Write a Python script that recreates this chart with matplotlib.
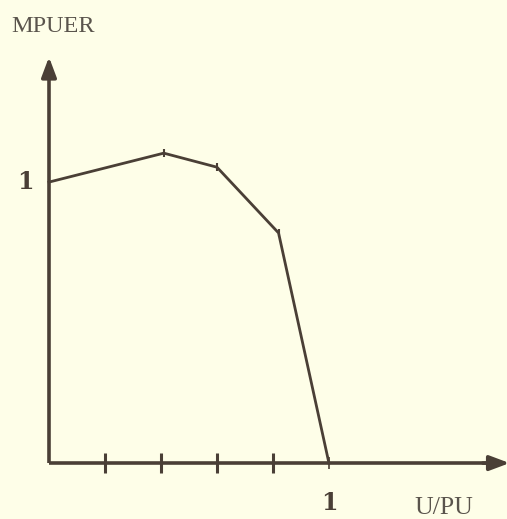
import numpy as np
import matplotlib.pyplot as plt

# curve values
u_pu = [0.0, 0.41, 0.60, 0.82, 1.0]
mpuer = [1.0, 1.103, 1.053, 0.819, 0.0]

tick_pos = [0.2, 0.4, 0.6, 0.8]
bg = '#fefee8'
ink = '#4a3f36'

fig = plt.figure(figsize=(5.07, 5.19), dpi=100, facecolor=bg)
ax = fig.add_axes([0, 0, 1, 1])
ax.set_facecolor(bg)
ax.set_xlim(-0.175, 1.636)
ax.set_ylim(-0.199, 1.648)
ax.axis('off')

# axes with arrow heads
arrow = dict(arrowstyle='-|>,head_length=1.2,head_width=0.45', color=ink, lw=2.6)
ax.plot([0, 0], [0, 1.40], color=ink, lw=2.6, solid_capstyle='butt')
ax.annotate('', xy=(0, 1.455), xytext=(0, 1.36), arrowprops=arrow,
            annotation_clip=False)
ax.plot([0, 1.56], [0, 0], color=ink, lw=2.6, solid_capstyle='butt')
ax.annotate('', xy=(1.655, 0), xytext=(1.54, 0), arrowprops=arrow,
            annotation_clip=False)

# ticks on the u axis
ax.plot(tick_pos, [0] * len(tick_pos), ls='none', marker='|', ms=14, mew=2.2, color=ink)
ax.plot([1.0], [0], ls='none', marker='|', ms=8, mew=1.2, color=ink)

# the curve
ax.plot(u_pu, mpuer, color=ink, lw=2.0)
ax.plot(u_pu[1:4], mpuer[1:4], ls='none', marker='|', ms=6, mew=1.5, color=ink)

# labels
ax.text(-0.135, 1.552, 'MPUER', family='Liberation Serif', fontsize=17.5,
        color='#5a544c', va='center', ha='left')
ax.text(1.307, -0.161, 'U/PU', family='Liberation Serif', fontsize=18.5,
        color='#5a544c', va='center', ha='left')
ax.text(-0.085, 1.0, '1', family='DejaVu Serif', fontsize=17, fontweight='bold',
        color=ink, va='center', ha='center')
ax.text(1.0, -0.142, '1', family='DejaVu Serif', fontsize=17, fontweight='bold',
        color=ink, va='center', ha='center')

fig.savefig('out.png', dpi=100, facecolor=bg)
